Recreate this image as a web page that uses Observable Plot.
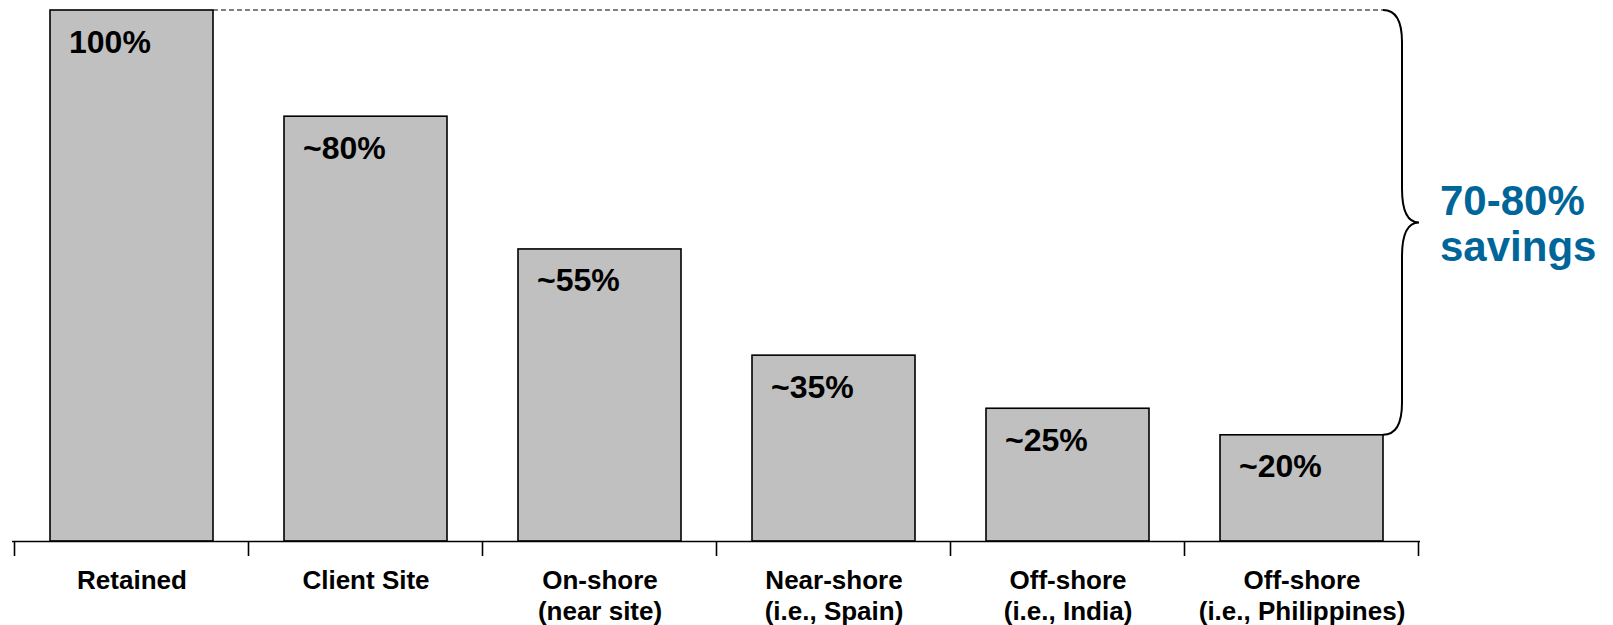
<!DOCTYPE html>
<html>
<head>
<meta charset="utf-8">
<script src="https://cdn.jsdelivr.net/npm/d3@7"></script>
<script src="https://cdn.jsdelivr.net/npm/@observablehq/plot@0.6"></script>
<style>
  html, body { margin: 0; padding: 0; background: #fff; }
  #chart svg { display: block; }
</style>
</head>
<body>
<div id="chart"></div>
<script>
// Delivery locations and their cost relative to a retained team
const categories = [
  "Retained",
  "Client Site",
  "On-shore\n(near site)",
  "Near-shore\n(i.e., Spain)",
  "Off-shore\n(i.e., India)",
  "Off-shore\n(i.e., Philippines)"
];
const costShares = [100, 80, 55, 35, 25, 20];
const valueLabels = ["100%", "~80%", "~55%", "~35%", "~25%", "~20%"];
const savingsLabel = "70-80%\nsavings";

const rows = categories.map((category, i) => ({
  category,
  share: costShares[i],
  label: valueLabels[i]
}));

const FONT = "'Liberation Sans', Arial, Helvetica, sans-serif";
const BLUE = "#006699";
const firstCat = categories[0];
const lastCat = categories[categories.length - 1];
const maxShare = d3.max(costShares);
const lastShare = costShares[costShares.length - 1];

// Tick marks at the boundaries between the bands
function bandTicks(index, scales) {
  const x = scales.x, y = scales.y;
  const step = x.step(), bw = x.bandwidth();
  const gap = (step - bw) / 2;
  const y0 = y(0);
  const xs = categories.map(c => x(c) - gap);
  xs.push(x(lastCat) + bw + gap);
  const g = d3.create("svg:g").attr("stroke", "#000").attr("stroke-width", 1.6);
  for (const px of xs) {
    g.append("line").attr("x1", px).attr("x2", px).attr("y1", y0).attr("y2", y0 + 15);
  }
  return g.node();
}

// Dashed guide from the tallest bar and the curly brace spanning the savings
function savingsBrace(index, scales) {
  const x = scales.x, y = scales.y;
  const bw = x.bandwidth();
  const yTop = y(maxShare), yBot = y(lastShare), yMid = (yTop + yBot) / 2;
  const x0 = x(lastCat) + bw;   // brace starts at the last bar's right edge
  const x1 = x0 + 19;           // vertical stem of the brace
  const xt = x1 + 17;           // brace tip
  const g = d3.create("svg:g").attr("fill", "none").attr("stroke", "#000");
  g.append("line")
    .attr("x1", x(firstCat) + bw).attr("x2", x0)
    .attr("y1", yTop).attr("y2", yTop)
    .attr("stroke-width", 1.2)
    .attr("stroke-dasharray", "5,3");
  const p = d3.path();
  p.moveTo(x0, yTop);
  p.quadraticCurveTo(x1, yTop, x1, yTop + 32);
  p.lineTo(x1, yMid - 34);
  p.quadraticCurveTo(x1, yMid, xt, yMid);
  p.quadraticCurveTo(x1, yMid, x1, yMid + 34);
  p.lineTo(x1, yBot - 32);
  p.quadraticCurveTo(x1, yBot, x0, yBot);
  g.append("path").attr("d", p.toString()).attr("stroke-width", 2);
  return g.node();
}

const chart = Plot.plot({
  width: 1613,
  height: 625,
  marginLeft: 12,
  marginRight: 193,
  marginTop: 10,
  marginBottom: 84,
  style: { fontFamily: FONT, background: "#fff", overflow: "visible" },
  x: { domain: categories, paddingInner: 0.305, paddingOuter: 0.1525, label: null },
  y: { domain: [0, 100], axis: null },
  marks: [
    Plot.barY(rows, {
      x: "category",
      y: "share",
      fill: "#c0c0c0",
      stroke: "#000",
      strokeWidth: 1.6
    }),
    Plot.text(rows, {
      x: "category",
      y: "share",
      text: "label",
      textAnchor: "start",
      lineAnchor: "bottom",
      dx: -63,
      dy: 42,
      fontSize: 32,
      fontWeight: "bold",
      fill: "#000"
    }),
    Plot.ruleY([0], { stroke: "#000", strokeWidth: 1.6 }),
    bandTicks,
    Plot.axisX({
      tickSize: 0,
      tickPadding: 25,
      fontSize: 26,
      fontWeight: "bold",
      lineHeight: 1.2,
      fill: "#000",
      label: null
    }),
    savingsBrace,
    Plot.text([savingsLabel], {
      x: () => lastCat,
      y: () => (maxShare + lastShare) / 2,
      text: d => d,
      textAnchor: "start",
      lineAnchor: "middle",
      lineHeight: 1.1,
      dx: 138,
      fontSize: 42,
      fontWeight: "bold",
      fill: BLUE
    })
  ]
});

document.getElementById("chart").append(chart);
</script>
</body>
</html>
